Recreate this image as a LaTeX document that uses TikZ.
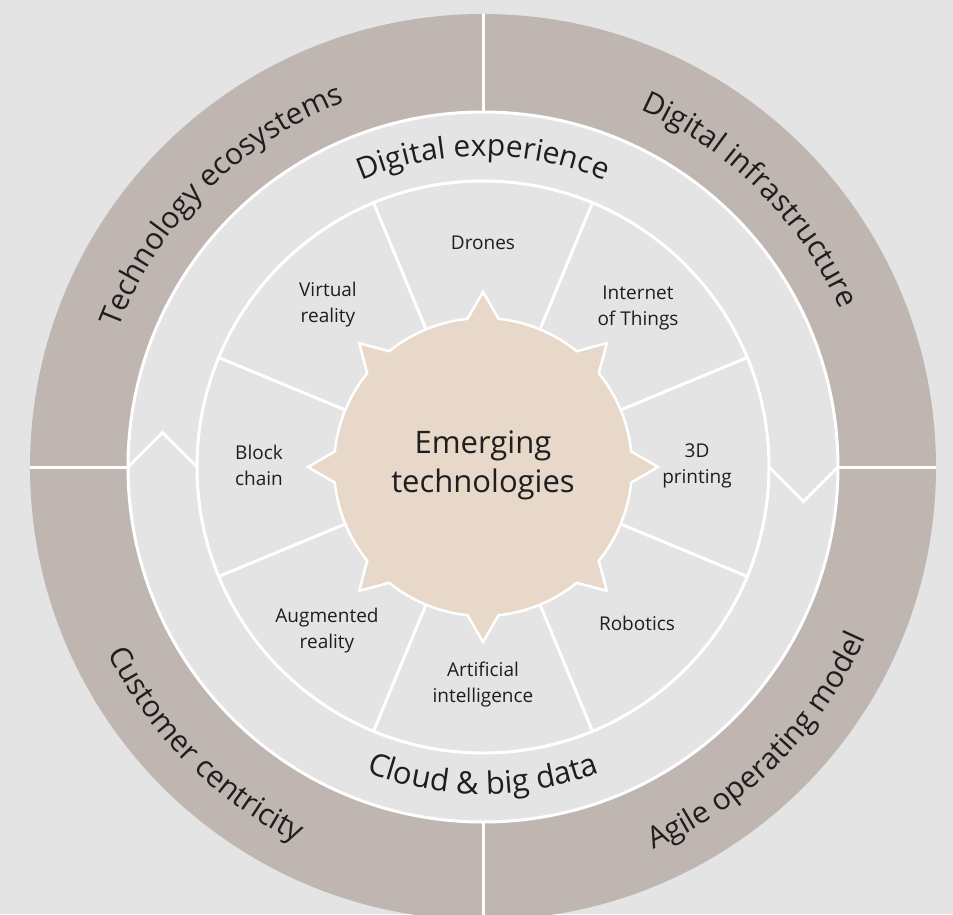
\documentclass[tikz,border=0pt]{standalone}
\usepackage{fontspec}
\setmainfont{Open Sans}
\usetikzlibrary{decorations.text}
\definecolor{bg}{HTML}{E4E4E4}
\definecolor{taupe}{HTML}{BFB6B1}
\definecolor{beige}{HTML}{E7D8CA}
\definecolor{ink}{HTML}{1E1E1E}
\tikzset{
  wline/.style={white, line width=3pt},
  seglabel/.style={align=center, text=ink, font=\fontsize{19}{26}\selectfont},
  arctext/.style={decorate, decoration={text along path, text align=center, text color=ink, text={#1}}}
}
\begin{document}
\begin{tikzpicture}[x=1pt,y=1pt]
\useasboundingbox (-483,-447) rectangle (470,467);
\fill[bg] (-483,-447) rectangle (470,467);
% outer ring
\fill[taupe] (0,0) circle[radius=453];
\draw[wline, fill=bg] (0,0) circle[radius=355];
\draw[wline] (-453,0) -- (-355,0);
\draw[wline] (355,0) -- (453,0);
\draw[wline] (0,355) -- (0,453);
\draw[wline] (0,-355) -- (0,-453);
% chevrons in the middle band
\draw[wline, line join=miter] (-355,0) -- (-320.5,34.5) -- (-286,0);
\draw[wline, line join=miter] (286,0) -- (320.5,-34.5) -- (355,0);
% segment circle and spokes
\draw[wline] (0,0) circle[radius=286];
\foreach \a in {22.5,67.5,...,337.5} \draw[wline] (\a:130) -- (\a:286);
% star
\draw[white, line width=2.5pt, fill=beige, line join=miter]
  (-6:149) \foreach \a in {0,45,...,315} { -- (\a:175) -- ({\a+6}:149) arc[start angle={\a+6}, end angle={\a+39}, radius=149] } -- cycle;
\node[align=center, text=ink, font=\fontsize{31}{39}\selectfont] (core) at (0,2) {Emerging\\technologies};
% segment labels
\node[seglabel] (drones) at (0,224) {Drones};
\node[seglabel] (iot) at (155,159) {Internet\\of Things};
\node[seglabel] (print) at (214,1) {3D\\printing};
\node[seglabel] (robot) at (154,-156) {Robotics};
\node[seglabel] (ai) at (0,-218) {Artificial\\intelligence};
\node[seglabel] (ar) at (-156,-164) {Augmented\\reality};
\node[seglabel] (block) at (-224,2) {Block\\chain};
\node[seglabel] (vr) at (-155,162) {Virtual\\reality};
% middle band texts
\path[arctext={|\fontsize{30}{30}\selectfont|Digital experience}] (150:311) arc[start angle=150, end angle=30, radius=311];
\path[arctext={|\fontsize{31}{31}\selectfont|Cloud {\&} big data}] (210:327) arc[start angle=210, end angle=330, radius=327];
% outer ring texts
\path[arctext={|\fontsize{30}{30}\selectfont|Technology ecosystems}] (180:390) arc[start angle=180, end angle=90, radius=390];
\path[arctext={|\fontsize{30}{30}\selectfont|Digital infrastructure}] (90:390) arc[start angle=90, end angle=0, radius=390];
\path[arctext={|\fontsize{30}{30}\selectfont|Customer centricity}] (180:419) arc[start angle=180, end angle=270, radius=419];
\path[arctext={|\fontsize{30}{30}\selectfont|Agile operating model}] (270:419) arc[start angle=270, end angle=360, radius=419];
\end{tikzpicture}
\end{document}
